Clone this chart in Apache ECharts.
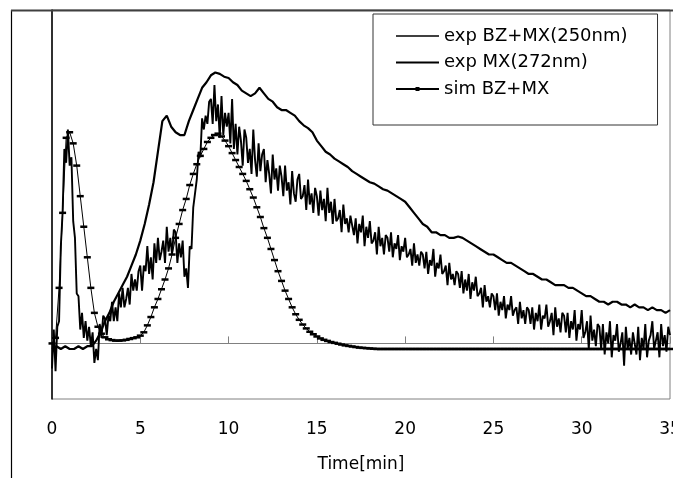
<!DOCTYPE html>
<html>
<head>
<meta charset="utf-8">
<script src="https://cdn.jsdelivr.net/npm/echarts/dist/echarts.min.js"></script>
<style>html,body{margin:0;padding:0;background:#fff;}#c{width:673px;height:478px;}</style>
</head>
<body>
<div id="c"></div>
<script>
// ---- data ----
const seriesNames = ['exp BZ+MX(250nm)', 'exp MX(272nm)', 'sim BZ+MX'];
const xTicks = [0, 5, 10, 15, 20, 25, 30, 35];

// exp BZ+MX(250nm): sampled every 0.1 min from t=0
const bzmx250Step = 0.1;
const bzmx250 = [
-0.09,0.05,-0.10,0.06,0.08,0.35,0.47,0.70,0.65,0.77,
0.64,0.67,0.44,0.38,0.18,0.17,0.05,0.11,0.02,0.08,
0.01,0.06,-0.01,0.04,-0.07,-0.02,-0.06,0.07,0.02,0.10,
0.09,0.03,0.10,0.08,0.15,0.08,0.13,0.08,0.18,0.13,
0.20,0.13,0.16,0.20,0.14,0.25,0.19,0.23,0.19,0.26,
0.28,0.19,0.28,0.26,0.35,0.25,0.31,0.23,0.36,0.29,
0.38,0.30,0.33,0.37,0.29,0.42,0.33,0.38,0.32,0.41,
0.40,0.29,0.36,0.31,0.37,0.24,0.27,0.20,0.35,0.34,
0.49,0.49,0.59,0.69,0.67,0.81,0.77,0.82,0.79,0.87,
0.88,0.79,0.93,0.80,0.86,0.74,0.89,0.75,0.83,0.78,
0.83,0.72,0.88,0.70,0.79,0.68,0.78,0.73,0.64,0.77,
0.74,0.65,0.70,0.61,0.77,0.66,0.60,0.72,0.62,0.68,
0.70,0.58,0.66,0.61,0.54,0.68,0.59,0.63,0.55,0.64,
0.60,0.53,0.64,0.55,0.58,0.50,0.62,0.54,0.51,0.59,
0.61,0.52,0.53,0.57,0.48,0.59,0.50,0.54,0.47,0.56,
0.53,0.46,0.55,0.48,0.52,0.44,0.56,0.47,0.51,0.43,
0.52,0.44,0.45,0.48,0.40,0.50,0.43,0.45,0.40,0.46,
0.46,0.39,0.45,0.36,0.43,0.40,0.46,0.35,0.42,0.38,
0.44,0.36,0.37,0.40,0.32,0.42,0.35,0.38,0.32,0.39,
0.38,0.33,0.40,0.31,0.36,0.34,0.39,0.30,0.35,0.33,
0.38,0.31,0.32,0.34,0.28,0.36,0.29,0.32,0.28,0.33,
0.32,0.27,0.33,0.25,0.30,0.28,0.34,0.24,0.29,0.27,
0.32,0.25,0.26,0.28,0.21,0.29,0.23,0.25,0.21,0.26,
0.25,0.20,0.26,0.18,0.23,0.19,0.25,0.16,0.22,0.19,
0.24,0.17,0.18,0.20,0.13,0.21,0.15,0.17,0.13,0.18,
0.17,0.12,0.18,0.10,0.15,0.12,0.17,0.09,0.14,0.12,
0.17,0.10,0.12,0.13,0.07,0.15,0.09,0.12,0.07,0.13,
0.12,0.07,0.13,0.05,0.11,0.08,0.14,0.05,0.10,0.09,
0.14,0.06,0.08,0.11,0.03,0.13,0.06,0.09,0.04,0.11,
0.10,0.04,0.11,0.02,0.08,0.05,0.12,0.01,0.07,0.05,
0.12,0.02,0.04,0.08,-0.02,0.10,0.01,0.05,-0.01,0.07,
0.06,-0.02,0.07,-0.04,0.04,0.00,0.08,-0.05,0.03,0.01,
0.07,-0.03,0.00,0.04,-0.08,0.06,-0.02,0.02,-0.04,0.04,
0.04,-0.04,0.06,-0.06,0.02,-0.02,0.07,-0.05,0.01,0.03,
0.08,-0.02,0.01,0.04,-0.05,0.07,-0.01,0.03,-0.03,0.06,
0.03
];

// exp MX(272nm): sampled every 0.25 min from t=0
const mx272Step = 0.25;
const mx272 = [
-0.02,-0.01,-0.02,-0.01,-0.02,-0.02,-0.01,-0.02,-0.01,-0.01,
0.01,0.04,0.08,0.11,0.15,0.18,0.21,0.24,0.28,0.32,
0.37,0.43,0.50,0.58,0.69,0.80,0.82,0.78,0.76,0.75,
0.75,0.80,0.84,0.88,0.92,0.94,0.965,0.975,0.97,0.96,
0.955,0.94,0.93,0.91,0.90,0.89,0.90,0.92,0.90,0.88,
0.87,0.85,0.84,0.84,0.83,0.82,0.80,0.785,0.775,0.76,
0.73,0.71,0.69,0.68,0.665,0.655,0.645,0.635,0.62,0.61,
0.60,0.59,0.58,0.575,0.565,0.555,0.55,0.54,0.53,0.52,
0.51,0.49,0.47,0.45,0.43,0.42,0.40,0.40,0.39,0.39,
0.38,0.38,0.385,0.38,0.37,0.36,0.35,0.34,0.33,0.32,
0.32,0.31,0.30,0.29,0.29,0.28,0.27,0.26,0.25,0.25,
0.24,0.23,0.23,0.22,0.21,0.21,0.21,0.20,0.20,0.19,
0.18,0.17,0.17,0.16,0.15,0.15,0.14,0.15,0.15,0.14,
0.14,0.13,0.14,0.13,0.13,0.12,0.13,0.12,0.12,0.11,
0.12
];

// sim BZ+MX: sampled every 0.2 min from t=0
const simStep = 0.2;
const simBZMX = [
0.00,0.02,0.20,0.47,0.74,0.76,0.72,0.64,0.53,0.42,
0.31,0.20,0.11,0.06,0.035,0.022,0.015,0.012,0.010,0.010,
0.011,0.013,0.016,0.019,0.022,0.028,0.04,0.065,0.095,0.13,
0.16,0.195,0.23,0.27,0.32,0.38,0.43,0.48,0.52,0.57,
0.61,0.645,0.675,0.70,0.725,0.74,0.75,0.755,0.745,0.73,
0.71,0.685,0.66,0.635,0.61,0.585,0.555,0.525,0.49,0.455,
0.415,0.38,0.34,0.30,0.26,0.225,0.19,0.16,0.13,0.105,
0.085,0.068,0.054,0.042,0.033,0.025,0.018,0.013,0.009,0.005,
0.002,-0.001,-0.004,-0.007,-0.009,-0.011,-0.013,-0.015,-0.016,-0.017,
-0.018,-0.019,-0.02,-0.02,-0.02,-0.02,-0.02,-0.02,-0.02,-0.02,
-0.02,-0.02,-0.02,-0.02,-0.02,-0.02,-0.02,-0.02,-0.02,-0.02,
-0.02,-0.02,-0.02,-0.02,-0.02,-0.02,-0.02,-0.02,-0.02,-0.02,
-0.02,-0.02,-0.02,-0.02,-0.02,-0.02,-0.02,-0.02,-0.02,-0.02,
-0.02,-0.02,-0.02,-0.02,-0.02,-0.02,-0.02,-0.02,-0.02,-0.02,
-0.02,-0.02,-0.02,-0.02,-0.02,-0.02,-0.02,-0.02,-0.02,-0.02,
-0.02,-0.02,-0.02,-0.02,-0.02,-0.02,-0.02,-0.02,-0.02,-0.02,
-0.02,-0.02,-0.02,-0.02,-0.02,-0.02,-0.02,-0.02,-0.02,-0.02,
-0.02,-0.02,-0.02,-0.02,-0.02,-0.02
];

function pairs(vals, step) {
  return vals.map((v, i) => [Math.round(i * step * 100) / 100, v]);
}

const FONT = 'DejaVu Sans';
const chart = echarts.init(document.getElementById('c'), null, {renderer: 'canvas'});
chart.setOption({
  animation: false,
  backgroundColor: '#fff',
  grid: {left: 52, right: 3, top: 10, bottom: 79, show: true, borderColor: '#808080', borderWidth: 1,
         backgroundColor: 'transparent', outerBoundsMode: 'none', containLabel: false},
  xAxis: [
    {
      type: 'value', min: xTicks[0], max: xTicks[xTicks.length - 1], interval: 5, position: 'bottom',
      axisLine: {show: false, onZero: false}, axisTick: {show: false}, splitLine: {show: false},
      axisLabel: {margin: 22, fontSize: 17, color: '#000', fontFamily: FONT},
      name: 'Time[min]', nameLocation: 'middle', nameGap: 57,
      nameTextStyle: {fontSize: 17, color: '#000', fontFamily: FONT}
    },
    {
      type: 'value', min: xTicks[0], max: xTicks[xTicks.length - 1], interval: 5, position: 'top',
      axisLine: {show: true, onZero: true, lineStyle: {color: '#808080', width: 1}},
      axisTick: {show: true, inside: false, length: 7, lineStyle: {color: '#808080', width: 1}},
      axisLabel: {show: false}, splitLine: {show: false}
    }
  ],
  yAxis: {
    type: 'value', min: -0.2, max: 1.2,
    axisLine: {show: true, onZero: false, lineStyle: {color: '#000', width: 1.5}},
    axisTick: {show: false}, axisLabel: {show: false}, splitLine: {show: false}
  },
  legend: {
    orient: 'vertical', left: 373, top: 14,
    padding: [12, 30, 26, 22],
    itemWidth: 43, itemHeight: 5, itemGap: 6.5,
    borderColor: '#333', borderWidth: 1, backgroundColor: '#fff',
    textStyle: {fontSize: 18, color: '#000', fontFamily: FONT, lineHeight: 20},
    data: [
      {name: seriesNames[0], itemStyle: {opacity: 0}, lineStyle: {width: 1.4}},
      {name: seriesNames[1], itemStyle: {opacity: 0}, lineStyle: {width: 2}},
      {name: seriesNames[2]}
    ]
  },
  graphic: [
    {type: 'line', shape: {x1: 11.5, y1: 10, x2: 11.5, y2: 478}, style: {stroke: '#000', lineWidth: 1.2}, z: 10},
    {type: 'line', shape: {x1: 11, y1: 10.5, x2: 673, y2: 10.5}, style: {stroke: '#404040', lineWidth: 2}, z: 10}
  ],
  series: [
    {
      name: seriesNames[0], type: 'line', data: pairs(bzmx250, bzmx250Step),
      symbol: 'none', lineStyle: {color: '#000', width: 1.9}, itemStyle: {color: '#000'}, z: 3
    },
    {
      name: seriesNames[1], type: 'line', data: pairs(mx272, mx272Step),
      symbol: 'none', lineStyle: {color: '#000', width: 2.2}, itemStyle: {color: '#000'}, z: 4
    },
    {
      name: seriesNames[2], type: 'line', data: pairs(simBZMX, simStep),
      symbol: 'rect', symbolSize: [7, 2.5], showSymbol: true, showAllSymbol: true,
      lineStyle: {color: '#000', width: 1}, itemStyle: {color: '#000'}, z: 5
    }
  ]
});
</script>
</body>
</html>
